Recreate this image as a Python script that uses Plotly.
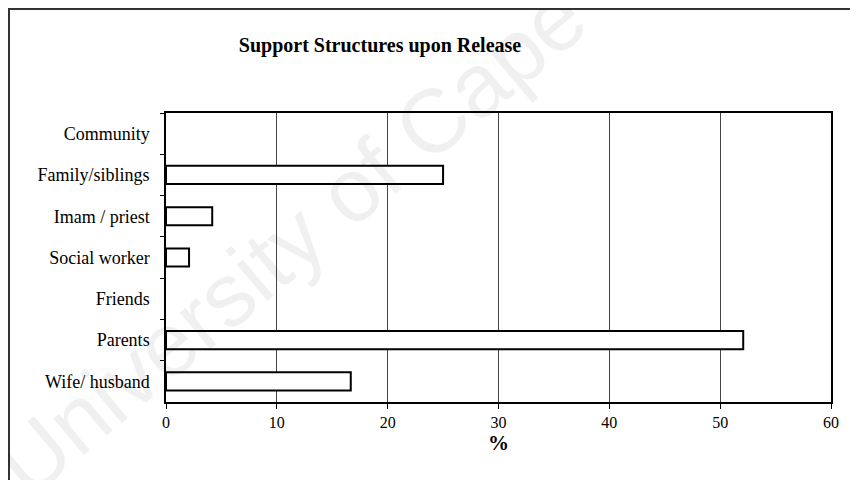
import plotly.graph_objects as go

categories = ["Community", "Family/siblings", "Imam / priest", "Social worker",
              "Friends", "Parents", "Wife/ husband"]
values = [0, 25.0, 4.17, 2.08, 0, 52.08, 16.67]
x_ticks = [0, 10, 20, 30, 40, 50, 60]

# page has an 8px body margin, so the figure is drawn 8px smaller
W, H = 850, 472
L, R, T, B = 158, 27, 105, 78
pw, ph = W - L - R, H - T - B

fig = go.Figure()
fig.add_trace(go.Bar(
    y=categories, x=values, orientation="h",
    marker=dict(color="white",
                line=dict(color="black", width=[2 if v > 0 else 0 for v in values])),
    width=0.44, showlegend=False, hoverinfo="x+y",
))

serif = "Liberation Serif, Times New Roman, serif"

fig.update_layout(
    width=W, height=H,
    margin=dict(l=L, r=R, t=T, b=B, pad=0, autoexpand=False),
    paper_bgcolor="white", plot_bgcolor="white",
    font=dict(family=serif, color="black", size=18),
    title=dict(text="<b>Support Structures upon Release</b>",
               x=372 / W, xanchor="center", y=1 - 37 / H, yanchor="middle",
               font=dict(family=serif, size=20, color="black")),
)
fig.update_xaxes(
    range=[0, 60], tickvals=x_ticks, ticktext=[str(v) for v in x_ticks],
    showgrid=True, gridcolor="#444", gridwidth=1,
    showline=True, linecolor="black", linewidth=1.5, mirror=True,
    ticks="outside", ticklen=5, tickcolor="black",
    tickfont=dict(family=serif, size=16),
    title=dict(text="<b>%</b>", font=dict(family=serif, size=21), standoff=0),
    zeroline=False, fixedrange=True,
)
fig.update_yaxes(
    categoryorder="array", categoryarray=categories, autorange="reversed",
    showgrid=False, showline=True, linecolor="black", linewidth=1.5, mirror=True,
    ticks="outside", ticklen=4, tickcolor="black", tickson="boundaries",
    tickfont=dict(family=serif, size=18), ticklabelstandoff=11,
    fixedrange=True,
)

def px_x(p):
    return (p - L) / pw

def px_y(p):
    return (H - B - p) / ph

# outer frame of the scanned chart
fig.add_shape(type="line", xref="paper", yref="paper",
              x0=px_x(1), x1=px_x(1), y0=px_y(0), y1=px_y(H),
              line=dict(color="#333", width=2))
fig.add_shape(type="line", xref="paper", yref="paper",
              x0=px_x(0), x1=px_x(W), y0=px_y(1), y1=px_y(1),
              line=dict(color="#333", width=2))

# faint watermark
fig.add_annotation(text="University of Cape Town", xref="paper", yref="paper",
                   x=px_x(372), y=px_y(158), xanchor="center", yanchor="middle",
                   textangle=-40, showarrow=False,
                   font=dict(family="Liberation Sans, Arial, sans-serif", size=90,
                             color="rgba(0,0,0,0.06)"))

fig.write_html("out.html")
